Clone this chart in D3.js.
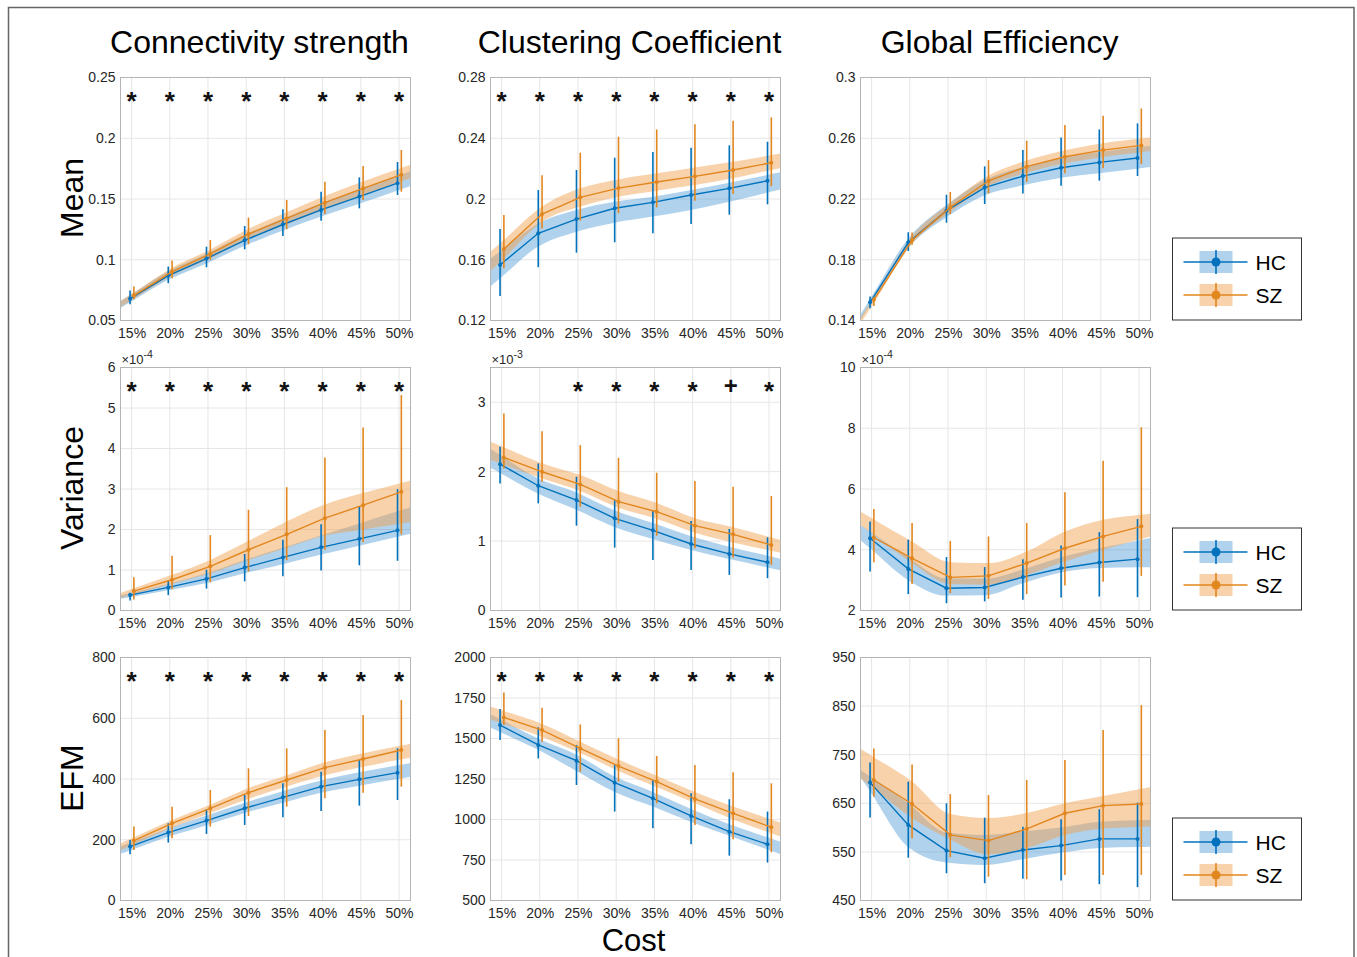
<!DOCTYPE html>
<html>
<head>
<meta charset="utf-8">
<script src="https://cdn.jsdelivr.net/npm/d3@7"></script>
<style>
  body { margin: 0; background: #fff; }
  text { font-family: "Liberation Sans", Arial, sans-serif; }
</style>
</head>
<body>
<script>
// ---- data ----
const costs = [15, 20, 25, 30, 35, 40, 45, 50];
const costLabels = ["15%", "20%", "25%", "30%", "35%", "40%", "45%", "50%"];
const colTitles = ["Connectivity strength", "Clustering Coefficient", "Global Efficiency"];
const rowTitles = ["Mean", "Variance", "EFM"];
const groups = ["HC", "SZ"];

const csMean = {
  hc: [0.068, 0.087, 0.101, 0.116, 0.129, 0.141, 0.152, 0.163],
  hcLo: [0.0634, 0.0807, 0.0938, 0.1086, 0.1196, 0.1322, 0.1423, 0.1533],
  hcHi: [0.0747, 0.0944, 0.1108, 0.1278, 0.1415, 0.156, 0.1678, 0.1804],
  hcBandLo: [0.065, 0.0835, 0.097, 0.1115, 0.124, 0.1355, 0.146, 0.157],
  hcBandHi: [0.071, 0.0905, 0.105, 0.1205, 0.134, 0.1465, 0.158, 0.169],
  sz: [0.0705, 0.0903, 0.1048, 0.1212, 0.134, 0.147, 0.1588, 0.17],
  szLo: [0.0675, 0.0848, 0.0999, 0.1127, 0.1251, 0.1377, 0.1492, 0.156],
  szHi: [0.078, 0.0993, 0.1163, 0.1347, 0.1492, 0.1642, 0.1771, 0.1903],
  szBandLo: [0.068, 0.087, 0.101, 0.117, 0.129, 0.1415, 0.153, 0.1645],
  szBandHi: [0.073, 0.0935, 0.1085, 0.1255, 0.139, 0.1525, 0.1645, 0.1755]
};
const ccMean = {
  hc: [0.1566, 0.1774, 0.1868, 0.1939, 0.1978, 0.2026, 0.207, 0.212],
  hcLo: [0.1362, 0.1551, 0.1647, 0.1715, 0.1774, 0.1836, 0.1897, 0.1965],
  hcHi: [0.1803, 0.2059, 0.2191, 0.2272, 0.2309, 0.2338, 0.2353, 0.2377],
  hcBandLo: [0.1478, 0.1687, 0.1785, 0.1844, 0.1884, 0.1928, 0.1982, 0.2042],
  hcBandHi: [0.1654, 0.184, 0.1928, 0.1982, 0.2015, 0.2059, 0.2107, 0.2158],
  sz: [0.1671, 0.1901, 0.2011, 0.2072, 0.2112, 0.2149, 0.2191, 0.2239],
  szLo: [0.1544, 0.1805, 0.1858, 0.1906, 0.1945, 0.1989, 0.2033, 0.2085],
  szHi: [0.1895, 0.2156, 0.2305, 0.241, 0.2458, 0.2493, 0.2515, 0.2537],
  szBandLo: [0.161, 0.1851, 0.195, 0.2015, 0.2055, 0.2092, 0.2136, 0.2191],
  szBandHi: [0.173, 0.195, 0.207, 0.2129, 0.2169, 0.2208, 0.2245, 0.2289]
};
const geMean = {
  hc: [0.152, 0.1913, 0.2123, 0.2275, 0.2351, 0.2406, 0.2441, 0.247],
  hcLo: [0.1481, 0.1858, 0.2044, 0.2167, 0.2237, 0.2288, 0.2321, 0.2351],
  hcHi: [0.1558, 0.1981, 0.2228, 0.2415, 0.2522, 0.2605, 0.2658, 0.2698],
  hcBandLo: [0.15, 0.188, 0.208, 0.2225, 0.229, 0.234, 0.237, 0.24],
  hcBandHi: [0.154, 0.194, 0.216, 0.2325, 0.241, 0.247, 0.251, 0.254],
  sz: [0.1536, 0.193, 0.2145, 0.232, 0.2413, 0.2478, 0.2522, 0.2553],
  szLo: [0.1496, 0.1898, 0.2101, 0.2237, 0.2312, 0.2369, 0.2402, 0.243],
  szHi: [0.1553, 0.1979, 0.2246, 0.2456, 0.2584, 0.2687, 0.2748, 0.2796],
  szBandLo: [0.1516, 0.1905, 0.2115, 0.2285, 0.2373, 0.2435, 0.2477, 0.2508],
  szBandHi: [0.1556, 0.1955, 0.2175, 0.2355, 0.2453, 0.2521, 0.2567, 0.2598]
};
// variance panels are stored in units of the axis multiplier
const csVar = {
  hc: [0.38, 0.57, 0.78, 1.06, 1.31, 1.56, 1.77, 1.98],
  hcLo: [0.245, 0.38, 0.541, 0.719, 0.846, 0.99, 1.117, 1.227],
  hcHi: [0.44, 0.736, 1.007, 1.396, 1.75, 2.13, 2.58, 2.995],
  hcBandLo: [0.33, 0.5, 0.68, 0.92, 1.14, 1.38, 1.6, 1.82],
  hcBandHi: [0.43, 0.66, 0.92, 1.25, 1.55, 1.85, 2.15, 2.45],
  sz: [0.48, 0.76, 1.09, 1.5, 1.88, 2.28, 2.6, 2.93],
  szLo: [0.27, 0.525, 0.694, 0.964, 1.244, 1.497, 1.684, 1.878],
  szHi: [0.82, 1.354, 1.861, 2.487, 3.046, 3.78, 4.518, 5.32],
  szBandLo: [0.4, 0.66, 0.92, 1.25, 1.55, 1.85, 2.0, 2.15],
  szBandHi: [0.55, 0.88, 1.25, 1.72, 2.2, 2.62, 2.9, 3.15]
};
const ccVar = {
  hc: [2.108, 1.797, 1.591, 1.327, 1.155, 0.958, 0.815, 0.695],
  hcLo: [1.83, 1.543, 1.222, 0.906, 0.728, 0.585, 0.513, 0.465],
  hcHi: [2.357, 2.118, 1.926, 1.591, 1.433, 1.289, 1.174, 1.054],
  hcBandLo: [1.98, 1.68, 1.45, 1.2, 1.03, 0.87, 0.74, 0.62],
  hcBandHi: [2.24, 1.9, 1.7, 1.44, 1.26, 1.07, 0.92, 0.79],
  sz: [2.204, 1.998, 1.816, 1.567, 1.423, 1.222, 1.097, 0.944],
  szLo: [2.046, 1.854, 1.495, 1.255, 1.078, 0.896, 0.762, 0.656],
  szHi: [2.837, 2.583, 2.381, 2.199, 1.984, 1.864, 1.782, 1.648],
  szBandLo: [2.1, 1.9, 1.72, 1.48, 1.32, 1.12, 0.98, 0.86],
  szBandHi: [2.35, 2.12, 1.95, 1.72, 1.55, 1.33, 1.2, 1.05]
};
const geVar = {
  hc: [4.38, 3.37, 2.735, 2.757, 3.1, 3.39, 3.58, 3.69],
  hcLo: [3.28, 2.54, 2.24, 2.3, 2.35, 2.43, 2.46, 2.44],
  hcHi: [4.93, 4.33, 3.76, 3.43, 3.69, 4.14, 4.58, 5.01],
  hcBandLo: [4.05, 3.0, 2.49, 2.5, 2.9, 3.25, 3.4, 3.42],
  hcBandHi: [4.6, 3.75, 3.05, 3.05, 3.35, 3.75, 4.05, 4.3],
  sz: [4.4, 3.72, 3.09, 3.14, 3.56, 4.05, 4.44, 4.77],
  szLo: [3.59, 2.87, 2.57, 2.38, 2.54, 2.82, 2.95, 3.14],
  szHi: [5.34, 4.88, 4.29, 4.44, 4.88, 5.89, 6.93, 8.03],
  szBandLo: [4.49, 3.56, 2.87, 2.85, 3.17, 3.61, 4.0, 4.35],
  szBandHi: [5.0, 4.27, 3.59, 3.56, 3.94, 4.6, 4.99, 5.15]
};
const csEfm = {
  hc: [177.5, 223.6, 263, 303.6, 339.7, 374.8, 398.9, 420.8],
  hcLo: [152.3, 190.7, 219.2, 248.8, 274, 294.8, 312.3, 331],
  hcHi: [199.5, 254.2, 300.3, 347.4, 385.8, 424.1, 462.5, 500.8],
  hcBandLo: [165, 210, 248, 288, 322, 355, 378, 400],
  hcBandHi: [190, 238, 280, 322, 360, 395, 422, 445],
  sz: [197.3, 254.2, 303.6, 355, 396.7, 437.3, 465.8, 495.3],
  szLo: [166.6, 204.9, 243.3, 278.4, 309, 336.4, 355, 374.8],
  szHi: [243.3, 309, 363.8, 435, 500.8, 561, 610.4, 659.7],
  szBandLo: [185, 240, 288, 335, 375, 412, 440, 465],
  szBandHi: [208, 265, 315, 370, 412, 455, 485, 510]
};
const ccEfm = {
  hc: [1583, 1460, 1363, 1227, 1131, 1022, 925, 847],
  hcLo: [1490, 1377, 1213, 1049, 946, 847, 777, 734],
  hcHi: [1682, 1569, 1460, 1336, 1244, 1162, 1125, 1049],
  hcBandLo: [1540, 1430, 1300, 1170, 1080, 985, 900, 815],
  hcBandHi: [1620, 1500, 1400, 1265, 1170, 1065, 970, 890],
  sz: [1630, 1552, 1439, 1330, 1234, 1127, 1038, 952],
  szLo: [1583, 1480, 1295, 1234, 1100, 966, 878, 798],
  szHi: [1784, 1690, 1587, 1501, 1392, 1336, 1291, 1223],
  szBandLo: [1590, 1510, 1410, 1300, 1200, 1100, 1000, 915],
  szBandHi: [1670, 1590, 1480, 1370, 1270, 1170, 1080, 1000]
};
const geEfm = {
  hc: [693, 605.5, 552.7, 537, 554, 563, 576.7, 576.7],
  hcLo: [621, 538, 506, 485.6, 495, 491, 483.6, 477.4],
  hcHi: [734, 694.5, 650, 620.5, 602, 617, 637.7, 651.4],
  hcBandLo: [675, 560, 528, 523, 535, 548, 558, 560],
  hcBandHi: [705, 650, 590, 585, 592, 600, 612, 615],
  sz: [698, 648.6, 585, 573.3, 597.3, 629.5, 645.2, 648.6],
  szLo: [663.7, 578, 539, 499, 493.8, 502.7, 502.7, 502.7],
  szHi: [763, 730, 669, 667, 698, 739, 800.7, 852],
  szBandLo: [680, 620, 575, 545, 558, 585, 598, 602],
  szBandHi: [745, 695, 628, 620, 630, 650, 665, 680]
};

// significance marks per cost
const starsAll = ["*", "*", "*", "*", "*", "*", "*", "*"];
const starsCcVar = ["", "", "*", "*", "*", "*", "+", "*"];
const starsNone = ["", "", "", "", "", "", "", ""];

const panels = [
  { data: csMean, row: 0, col: 0, domain: [0.05, 0.25], ticks: [0.05, 0.1, 0.15, 0.2, 0.25], stars: starsAll },
  { data: ccMean, row: 0, col: 1, domain: [0.12, 0.28], ticks: [0.12, 0.16, 0.2, 0.24, 0.28], stars: starsAll },
  { data: geMean, row: 0, col: 2, domain: [0.14, 0.3], ticks: [0.14, 0.18, 0.22, 0.26, 0.3], stars: starsNone },
  { data: csVar, row: 1, col: 0, domain: [0, 6], ticks: [0, 1, 2, 3, 4, 5, 6], stars: starsAll, exp: "-4" },
  { data: ccVar, row: 1, col: 1, domain: [0, 3.5], ticks: [0, 1, 2, 3], stars: starsCcVar, exp: "-3" },
  { data: geVar, row: 1, col: 2, domain: [2, 10], ticks: [2, 4, 6, 8, 10], stars: starsNone, exp: "-4" },
  { data: csEfm, row: 2, col: 0, domain: [0, 800], ticks: [0, 200, 400, 600, 800], stars: starsAll },
  { data: ccEfm, row: 2, col: 1, domain: [500, 2000], ticks: [500, 750, 1000, 1250, 1500, 1750, 2000], stars: starsAll },
  { data: geEfm, row: 2, col: 2, domain: [450, 950], ticks: [450, 550, 650, 750, 850, 950], stars: starsNone }
];

// ---- layout ----
const W = 1357, H = 957;
const colLeft = [120.5, 490.5, 860.5];
const rowTop = [77.5, 367.5, 657.5];
const pw = 290, ph = 243;
const color = { HC: "#0072BD", SZ: "#E2861E" };
const bandColor = { HC: "#3A8FD0", SZ: "#F0A050" };
const bandOpacity = { HC: 0.4, SZ: 0.48 };
const shift = { HC: -0.2, SZ: 0.3 };
const xDomain = [13.55, 51.5];

const svg = d3.select("body").append("svg").attr("width", W).attr("height", H);
svg.append("rect").attr("width", W).attr("height", H).attr("fill", "#fff");
// outer frame
svg.append("rect").attr("x", 8.5).attr("y", 7.5).attr("width", 1345.5).attr("height", 980)
  .attr("fill", "none").attr("stroke", "#666").attr("stroke-width", 1.5);

// extend band to the axes edges by carrying the end segments on
function edgePoints(xs, ys) {
  const n = xs.length;
  const a = ys[0] + (ys[1] - ys[0]) * (xDomain[0] - xs[0]) / (xs[1] - xs[0]);
  const b = ys[n - 1] + (ys[n - 1] - ys[n - 2]) * (xDomain[1] - xs[n - 1]) / (xs[n - 1] - xs[n - 2]);
  return [a].concat(ys, [b]);
}

panels.forEach((p, pi) => {
  const g = svg.append("g").attr("transform", `translate(${colLeft[p.col]},${rowTop[p.row]})`);
  const x = d3.scaleLinear().domain(xDomain).range([0, pw]);
  const y = d3.scaleLinear().domain(p.domain).range([ph, 0]);

  // grid
  g.append("g").selectAll("line").data(costs).join("line")
    .attr("x1", d => x(d)).attr("x2", d => x(d)).attr("y1", 0).attr("y2", ph)
    .attr("stroke", "#e6e6e6").attr("stroke-width", 1);
  g.append("g").selectAll("line").data(p.ticks).join("line")
    .attr("x1", 0).attr("x2", pw).attr("y1", d => y(d)).attr("y2", d => y(d))
    .attr("stroke", "#e6e6e6").attr("stroke-width", 1);

  const clipId = "clip" + pi;
  g.append("clipPath").attr("id", clipId).append("rect").attr("width", pw).attr("height", ph);

  // confidence bands
  groups.forEach(grp => {
    const k = grp.toLowerCase();
    const xs = costs.map(c => c + shift[grp]);
    const lo = edgePoints(xs, p.data[k + "BandLo"]);
    const hi = edgePoints(xs, p.data[k + "BandHi"]);
    const bx = [xDomain[0]].concat(xs, [xDomain[1]]);
    const pts = bx.map((v, i) => ({ x: v, lo: lo[i], hi: hi[i] }));
    const area = d3.area().curve(d3.curveMonotoneX)
      .x(d => x(d.x)).y0(d => y(d.lo)).y1(d => y(d.hi));
    g.append("path").datum(pts).attr("clip-path", `url(#${clipId})`)
      .attr("d", area).attr("fill", bandColor[grp]).attr("fill-opacity", bandOpacity[grp]);
  });

  // mean lines, error bars, markers
  groups.forEach(grp => {
    const k = grp.toLowerCase();
    const pts = costs.map((c, i) => ({ x: c + shift[grp], m: p.data[k][i], lo: p.data[k + "Lo"][i], hi: p.data[k + "Hi"][i] }));
    const line = d3.line().x(d => x(d.x)).y(d => y(d.m));
    g.append("path").datum(pts).attr("d", line).attr("fill", "none")
      .attr("stroke", color[grp]).attr("stroke-width", 1.4);
    g.append("g").selectAll("line").data(pts).join("line")
      .attr("x1", d => x(d.x)).attr("x2", d => x(d.x))
      .attr("y1", d => y(d.lo)).attr("y2", d => y(d.hi))
      .attr("stroke", color[grp]).attr("stroke-width", 1.6);
    g.append("g").selectAll("circle").data(pts).join("circle")
      .attr("cx", d => x(d.x)).attr("cy", d => y(d.m)).attr("r", 2)
      .attr("fill", color[grp]);
  });

  // significance marks
  g.append("g").selectAll("text").data(p.stars).join("text")
    .attr("x", (d, i) => x(costs[i]))
    .attr("y", d => d === "+" ? 26 : 32)
    .attr("text-anchor", "middle")
    .attr("font-size", d => d === "+" ? 24 : 26)
    .attr("font-weight", "bold")
    .attr("fill", "#111")
    .text(d => d);

  // box
  g.append("rect").attr("width", pw).attr("height", ph)
    .attr("fill", "none").attr("stroke", "#b4b4b4").attr("stroke-width", 1);

  // axes
  const xAxis = d3.axisBottom(x).tickValues(costs).tickFormat((d, i) => costLabels[i]).tickSize(0).tickPadding(8);
  const gx = g.append("g").attr("transform", `translate(0,${ph})`).call(xAxis);
  const yAxis = d3.axisLeft(y).tickValues(p.ticks).tickFormat(d => String(d)).tickSize(0).tickPadding(5);
  const gy = g.append("g").call(yAxis);
  [gx, gy].forEach(a => {
    a.select(".domain").remove();
    a.selectAll("text").attr("font-size", 14).attr("fill", "#262626")
      .attr("font-family", "'Liberation Sans', Arial, sans-serif");
  });

  if (p.exp) {
    const t = g.append("text").attr("x", 1).attr("y", -4).attr("font-size", 13).attr("fill", "#262626");
    t.append("tspan").text("\u00d710");
    t.append("tspan").attr("dy", -6).attr("font-size", 10.5).text(p.exp);
  }
});

// column titles
svg.append("g").selectAll("text").data(colTitles).join("text")
  .attr("x", (d, i) => colLeft[i] + pw / 2 - 6)
  .attr("y", 53)
  .attr("text-anchor", "middle").attr("font-size", 32).attr("fill", "#000")
  .text(d => d);

// row titles
svg.append("g").selectAll("text").data(rowTitles).join("text")
  .attr("transform", (d, i) => `translate(83,${rowTop[i] + ph / 2 - 1}) rotate(-90)`)
  .attr("text-anchor", "middle").attr("font-size", 32).attr("fill", "#000")
  .text(d => d);

// x label
svg.append("text").attr("x", colLeft[1] + pw / 2 - 2).attr("y", 951)
  .attr("text-anchor", "middle").attr("font-size", 31).attr("fill", "#000").text("Cost");

// legends, one per row
rowTop.forEach(top => {
  const lg = svg.append("g").attr("transform", `translate(1172.5,${top + 160.5})`);
  lg.append("rect").attr("width", 129).attr("height", 82)
    .attr("fill", "#fff").attr("stroke", "#333").attr("stroke-width", 1);
  groups.forEach((grp, i) => {
    const cy = 24 + i * 33;
    lg.append("rect").attr("x", 27).attr("y", cy - 11).attr("width", 33).attr("height", 22)
      .attr("fill", bandColor[grp]).attr("fill-opacity", bandOpacity[grp]);
    lg.append("line").attr("x1", 11).attr("x2", 75).attr("y1", cy).attr("y2", cy)
      .attr("stroke", color[grp]).attr("stroke-width", 1.6);
    lg.append("line").attr("x1", 43.5).attr("x2", 43.5).attr("y1", cy - 12).attr("y2", cy + 12)
      .attr("stroke", color[grp]).attr("stroke-width", 1.6);
    lg.append("circle").attr("cx", 43.5).attr("cy", cy).attr("r", 4.5).attr("fill", color[grp]);
    lg.append("text").attr("x", 83).attr("y", cy + 7.5).attr("font-size", 21).attr("fill", "#000").text(grp);
  });
});
</script>
</body>
</html>
